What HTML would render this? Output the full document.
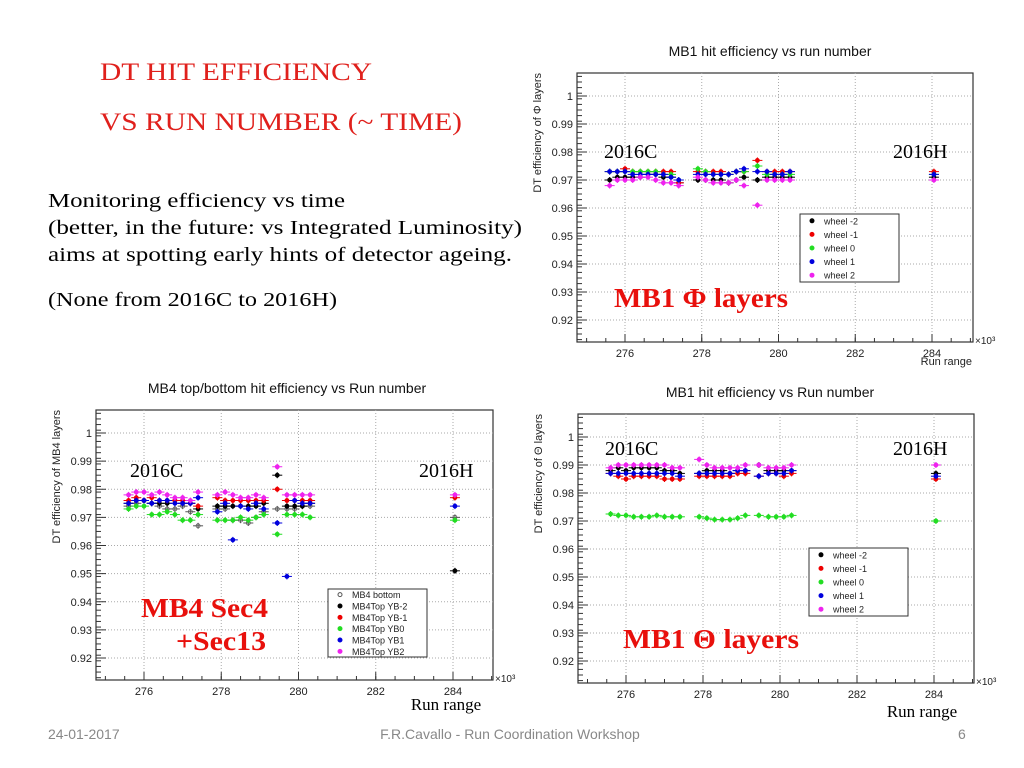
<!DOCTYPE html>
<html><head><meta charset="utf-8"><style>
body{margin:0;background:#fff;width:1024px;height:768px;overflow:hidden}
svg{display:block}
.s{font-family:"Liberation Sans",sans-serif}
.r{font-family:"Liberation Serif",serif}
</style></head><body>
<svg id="page" width="1024" height="768" xmlns="http://www.w3.org/2000/svg">
<text class="r" x="100" y="80" font-size="25" fill="#e0201c" textLength="272" lengthAdjust="spacingAndGlyphs">DT HIT EFFICIENCY</text>
<text class="r" x="100" y="130" font-size="25" fill="#e0201c" textLength="362" lengthAdjust="spacingAndGlyphs">VS RUN NUMBER (~ TIME)</text>
<g class="r" font-size="20" fill="#000">
<text x="48" y="207" textLength="297" lengthAdjust="spacingAndGlyphs">Monitoring efficiency vs time</text>
<text x="48" y="234" textLength="474" lengthAdjust="spacingAndGlyphs">(better, in the future: vs Integrated Luminosity)</text>
<text x="48" y="261" textLength="464" lengthAdjust="spacingAndGlyphs">aims at spotting early hints of detector ageing.</text>
<text x="48" y="306" textLength="289" lengthAdjust="spacingAndGlyphs">(None from 2016C to 2016H)</text>
</g>
<text class="s" x="48" y="739" font-size="14" fill="#888">24-01-2017</text>
<text class="s" x="510" y="739" font-size="14" fill="#888" text-anchor="middle">F.R.Cavallo - Run Coordination Workshop</text>
<text class="s" x="958" y="739" font-size="14" fill="#888">6</text>
<g id="charts"></g>
</svg>
<script>
const runs = [275.6,275.8,276.0,276.2,276.4,276.6,276.8,277.0,277.2,277.4,277.9,278.1,278.3,278.5,278.7,278.9,279.1,279.45,279.7,279.9,280.1,280.3,284.05];
const yTicks = [0.92,0.93,0.94,0.95,0.96,0.97,0.98,0.99,1];
const yTickLabels = ["0.92","0.93","0.94","0.95","0.96","0.97","0.98","0.99","1"];
const xTicks = [276,278,280,282,284];
const xTickLabels = ["276","278","280","282","284"];
const wheelNames = ["wheel -2","wheel -1","wheel 0","wheel 1","wheel 2"];
const mb4Names = ["MB4 bottom","MB4Top YB-2","MB4Top YB-1","MB4Top YB0","MB4Top YB1","MB4Top YB2"];
const phiWm2 = [.970,.971,.971,.971,.971,.972,.972,.971,.971,.969,.970,.970,.970,.970,.969,.970,.971,.970,.971,.971,.971,.971,.971];
const phiWm1 = [.973,.973,.974,.973,.973,.973,.973,.973,.973,.969,.973,.973,.973,.973,.972,.973,.973,.977,.973,.973,.973,.973,.973];
const phiW0 = [.973,.973,.973,.973,.973,.973,.973,.972,.972,.970,.974,.973,.972,.972,.972,.973,.973,.975,.972,.972,.972,.972,.972];
const phiW1 = [.973,.973,.973,.972,.972,.972,.972,.972,.971,.970,.972,.972,.972,.972,.972,.973,.974,.973,.973,.972,.972,.973,.972];
const phiW2 = [.968,.970,.970,.970,.971,.971,.970,.969,.969,.968,.971,.970,.969,.969,.969,.970,.968,.961,.970,.970,.970,.970,.970];
const thWm2 = [.988,.989,.988,.989,.989,.989,.989,.988,.988,.987,.987,.988,.988,.988,.987,.988,.988,.990,.988,.988,.988,.988,.987];
const thWm1 = [.987,.986,.985,.986,.986,.986,.986,.985,.985,.985,.986,.986,.986,.986,.986,.987,.987,.986,.987,.987,.986,.987,.985];
const thW0 = [.9725,.972,.972,.9715,.9715,.9715,.972,.9715,.9715,.9715,.9715,.971,.9705,.9705,.9705,.971,.972,.972,.9715,.9715,.9715,.972,.970];
const thW1 = [.987,.987,.987,.987,.987,.987,.987,.987,.987,.986,.987,.987,.987,.987,.987,.988,.988,.986,.987,.987,.987,.988,.986];
const thW2 = [.989,.990,.990,.990,.990,.990,.990,.990,.989,.989,.992,.990,.989,.989,.989,.989,.990,.990,.989,.989,.989,.990,.990];
const mb4Bot = [.974,.975,.976,.975,.974,.973,.973,.974,.972,.967,.973,.973,.969,.969,.968,.970,.972,.973,.973,.973,.974,.974,.970];
const mb4Ym2 = [.975,.976,.976,.975,.975,.975,.976,.975,.975,.973,.974,.974,.974,.974,.974,.974,.975,.985,.974,.974,.974,.975,.951];
const mb4Ym1 = [.976,.977,.976,.977,.976,.976,.976,.976,.975,.974,.977,.976,.976,.976,.976,.976,.976,.980,.976,.976,.976,.976,.977];
const mb4Y0 = [.973,.974,.974,.971,.971,.972,.971,.969,.969,.971,.969,.969,.969,.970,.969,.970,.971,.964,.971,.971,.971,.970,.969];
const mb4Y1 = [.975,.976,.976,.975,.976,.976,.975,.975,.975,.977,.972,.975,.962,.974,.973,.975,.973,.968,.949,.976,.975,.975,.974];
const mb4Y2 = [.978,.979,.979,.978,.979,.978,.977,.977,.976,.979,.978,.979,.978,.977,.977,.978,.977,.988,.978,.978,.978,.978,.978];
const colors5 = ["#000","#e00","#2d2","#00d","#e2e"];
const colors6 = ["#555","#000","#e00","#2d2","#00d","#e2e"];

const NS="http://www.w3.org/2000/svg";
const root=document.getElementById('charts');
function mk(tag,attrs,parent,txt){const e=document.createElementNS(NS,tag);for(const k in attrs)e.setAttribute(k,attrs[k]);if(txt!==undefined)e.textContent=txt;(parent||root).appendChild(e);return e;}

const plots=[
 {name:'mb1-phi',title:'MB1 hit efficiency vs run number',tx:770,ty:56,ytitle:'DT efficiency of Φ layers',
  L:577,R:973,T:73,B:342,y1:96,y092:320,x276:625,x284:932,
  series:[phiWm2,phiWm1,phiW0,phiW1,phiW2],names:wheelNames,cols:colors5,
  leg:[800,214,99,68],c:[604,158],h:[893,158],big:'MB1 Φ layers',bx:614,by:307,bw:174,rr:'s'},
 {name:'mb4',title:'MB4 top/bottom hit efficiency vs Run number',tx:287,ty:393,ytitle:'DT efficiency of MB4 layers',
  L:96,R:493,T:410,B:680,y1:433,y092:658,x276:144,x284:453,
  series:[mb4Bot,mb4Ym2,mb4Ym1,mb4Y0,mb4Y1,mb4Y2],names:mb4Names,cols:colors6,
  leg:[328,589,99,68],c:[130,477],h:[419,477],big:'MB4 Sec4',bx:141,by:617,bw:127,big2:'+Sec13',rr:'r',rrx:446,rry:710},
 {name:'mb1-theta',title:'MB1 hit efficiency vs Run number',tx:770,ty:397,ytitle:'DT efficiency of Θ layers',
  L:578,R:974,T:414,B:683,y1:437,y092:661,x276:626,x284:934,
  series:[thWm2,thWm1,thW0,thW1,thW2],names:wheelNames,cols:colors5,
  leg:[809,548,99,68],c:[605,455],h:[893,455],big:'MB1 Θ layers',bx:623,by:648,bw:176,rr:'r',rrx:922,rry:717}
];

plots.forEach(p=>{
 const g=mk('g',{});
 
 
 const ys=v=>p.y092+(v-0.92)*(p.y1-p.y092)/0.08;
 const xs=v=>p.x276+(v-276)*(p.x284-p.x276)/8;
 const t=mk('text',{x:p.tx,y:p.ty,'font-size':14,'text-anchor':'middle',class:'s',fill:'#111'},g,p.title);
 
 
 const fr=mk('rect',{x:p.L,y:p.T,width:p.R-p.L,height:p.B-p.T,fill:'#fff',stroke:'#333','stroke-width':1.2},g);
 
 
 yTicks.forEach((v,i)=>{
  const y=ys(v);
  mk('line',{x1:p.L,x2:p.R,y1:y,y2:y,stroke:'#aaa','stroke-dasharray':'1,2'},g);
  mk('line',{x1:p.L,x2:p.L+10,y1:y,y2:y,stroke:'#333'},g);
  const lb=mk('text',{x:p.L-4,y:y+4,'font-size':11,'text-anchor':'end',class:'s',fill:'#222'},g,yTickLabels[i]);
  
  
 });
 for(let v=0.913;v<1.008;v+=0.002){const y=ys(v);if(y>p.T&&y<p.B)mk('line',{x1:p.L,x2:p.L+5,y1:y,y2:y,stroke:'#333'},g);}
 xTicks.forEach((v,i)=>{
  const x=xs(v);
  mk('line',{x1:x,x2:x,y1:p.T,y2:p.B,stroke:'#aaa','stroke-dasharray':'1,2'},g);
  mk('line',{x1:x,x2:x,y1:p.B,y2:p.B-8,stroke:'#333'},g);
  const lb=mk('text',{x:x,y:p.B+15,'font-size':11,'text-anchor':'middle',class:'s',fill:'#222'},g,xTickLabels[i]);
  
  
 });
 for(let v=275;v<285.1;v+=0.5){const x=xs(v);if(x>p.L&&x<p.R)mk('line',{x1:x,x2:x,y1:p.B,y2:p.B-4,stroke:'#333'},g);}
 const e3=mk('text',{x:p.R+2,y:p.B+2,'font-size':10,class:'s',fill:'#222'},g,'×10³');
 
 
 const yt=mk('text',{x:0,y:0,'font-size':11,'text-anchor':'end',class:'s',fill:'#222',transform:`translate(${p.L-36},${p.T}) rotate(-90)`},g,p.ytitle);
 
 
 if(p.rr==='s'){const r=mk('text',{x:p.R-1,y:p.B+23,'font-size':11,'text-anchor':'end',class:'s',fill:'#222'},g,'Run range');
  }
 else{const r=mk('text',{x:p.rrx,y:p.rry,'font-size':17,'text-anchor':'middle',class:'r',fill:'#000'},g,'Run range');
  }
 p.series.forEach((arr,si)=>{
  const sg=mk('g',{},g);
  
  
  const c=p.cols[si];
  arr.forEach((v,i)=>{
   const x=xs(runs[i]),y=ys(v);
   mk('line',{x1:x-5,x2:x+5,y1:y,y2:y,stroke:c,'stroke-width':1},sg);
   mk('line',{x1:x,x2:x,y1:y-3,y2:y+3,stroke:c,'stroke-width':1},sg);
   const pt=mk('circle',{cx:x,cy:y,r:2,fill:(p.name==='mb4'&&si===0)?'none':c,stroke:c,'stroke-width':0.8},sg);
   
   
  });
 });
 const [lx,ly,lw,lh]=p.leg;
 const lg=mk('g',{},g);
 
 
 mk('rect',{x:lx,y:ly,width:lw,height:lh,fill:'#fff',stroke:'#333'},lg);
 const n=p.names.length,step=lh/n;
 p.names.forEach((nm,i)=>{
  const y=ly+step*(i+0.5);
  mk('circle',{cx:lx+12,cy:y,r:2,fill:(p.name==='mb4'&&i===0)?'none':p.cols[i],stroke:p.cols[i]},lg);
  const le=mk('text',{x:lx+24,y:y+3.5,'font-size':9,class:'s',fill:'#222'},lg,nm);
  
  
 });
 const a=mk('text',{x:p.c[0],y:p.c[1],'font-size':20,class:'r',fill:'#000'},g,'2016C');
 
 const b=mk('text',{x:p.h[0],y:p.h[1],'font-size':20,class:'r',fill:'#000'},g,'2016H');
 
 const big=mk('text',{x:p.bx,y:p.by,'font-size':27,'font-weight':'bold',class:'r',fill:'#e8100c',textLength:p.bw,lengthAdjust:'spacingAndGlyphs'},g,p.big);
 
 if(p.big2){const b2=mk('text',{x:176,y:650,'font-size':27,'font-weight':'bold',class:'r',fill:'#e8100c',textLength:90,lengthAdjust:'spacingAndGlyphs'},g,p.big2);
  }
});
</script>
</body></html>
